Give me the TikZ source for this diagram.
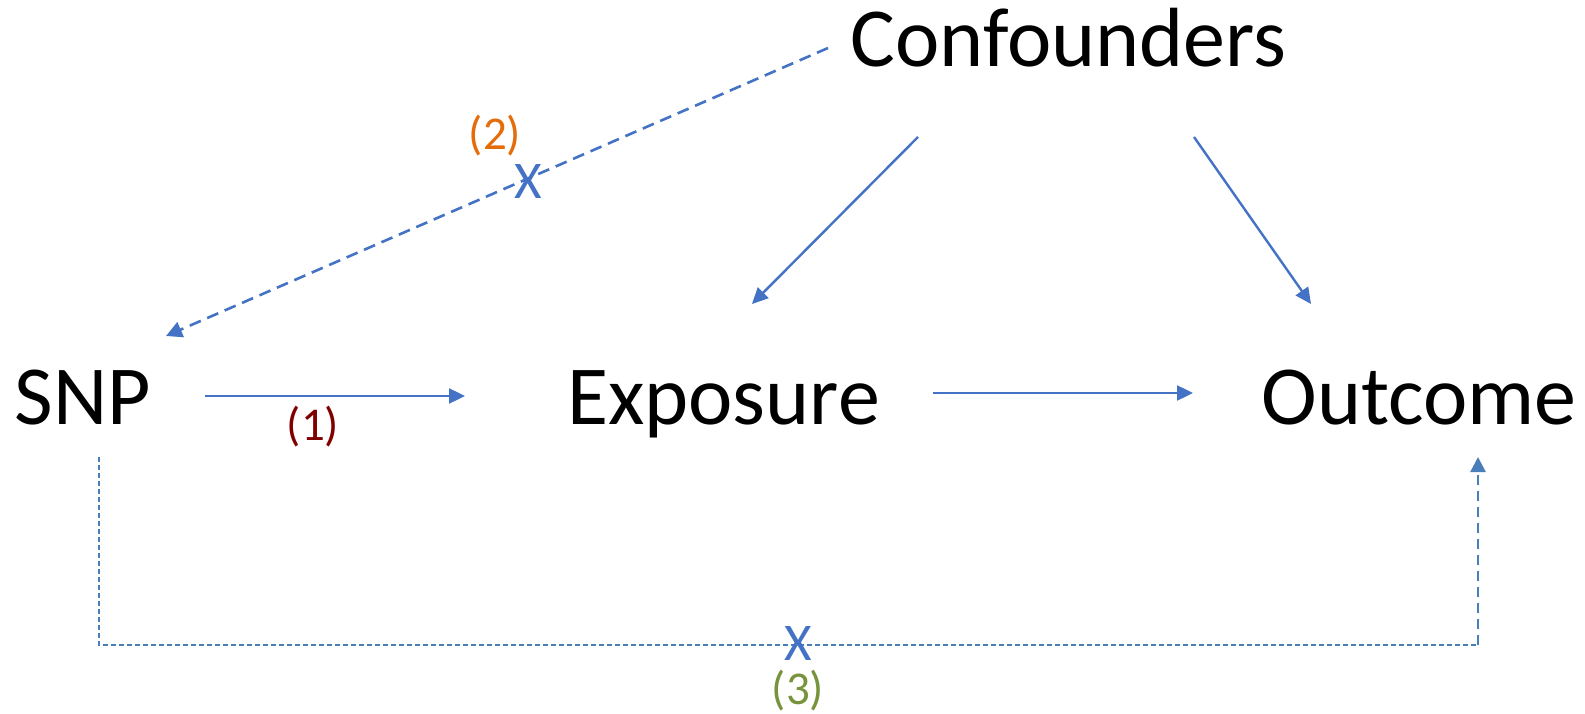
\documentclass[tikz,border=0pt]{standalone}
\usepackage{fontspec}
\setmainfont{Carlito}
\usetikzlibrary{arrows.meta}
\definecolor{lineblue}{HTML}{4472C4}
\definecolor{steelblue}{HTML}{4A7EBB}
\definecolor{lblred}{HTML}{800000}
\definecolor{lblorange}{HTML}{E46C0A}
\definecolor{lblgreen}{HTML}{77933C}
\tikzset{
  bigtext/.style={font=\fontsize{84}{100}\selectfont, inner sep=0pt, anchor=base},
  lbltext/.style={font=\fontsize{47}{54}\selectfont, inner sep=0pt, anchor=base},
  xmark/.style={font=\fontsize{53}{60}\selectfont, text=lineblue, inner sep=0pt, anchor=center},
  solidarrow/.style={draw=lineblue, line width=2.4pt, -{Triangle[length=16pt,width=15pt]}},
  dasharrow/.style={draw=lineblue, line width=2.6pt, dash pattern=on 12pt off 7pt, -{Triangle[length=16pt,width=16pt]}},
  finedash/.style={draw=steelblue, line width=1.6pt, dash pattern=on 5pt off 3pt},
  thickdash/.style={draw=steelblue, line width=2.6pt, dash pattern=on 10pt off 6pt, -{Triangle[length=15pt,width=15pt]}}
}
\begin{document}
\begin{tikzpicture}[x=1pt,y=-1pt]
\useasboundingbox (0,0) rectangle (1585,714);
% main nodes
\node[bigtext] (snp) at (83,424) {SNP};
\node[bigtext] (exp) at (723.5,424) {Exposure};
\node[bigtext] (out) at (1419,424) {Outcome};
\node[bigtext] (conf) at (1068.5,67) {Confounders};
% connector end points
\coordinate (snpR) at (205,396);
\coordinate (expL) at (465,396);
\coordinate (expR) at (933,393);
\coordinate (outL) at (1193,393);
\coordinate (confA) at (918,137);
\coordinate (expT) at (752,304);
\coordinate (confB) at (1194,137);
\coordinate (outT) at (1311,304);
\coordinate (confL) at (828,48);
\coordinate (snpT) at (166,336);
\coordinate (snpB) at (99,457);
\coordinate (corner) at (1478,645);
\coordinate (outB) at (1478,457);
% connectors
\draw[solidarrow] (snpR) -- (expL);
\draw[solidarrow] (expR) -- (outL);
\draw[solidarrow] (confA) -- (expT);
\draw[solidarrow] (confB) -- (outT);
\draw[dasharrow] (confL) -- (snpT);
\draw[finedash] (snpB) |- (corner);
\draw[thickdash] (corner) -- (outB);
% labels
\node[lbltext, text=lblred] (l1) at (313,440) {(1)};
\node[lbltext, text=lblorange] (l2) at (495,150) {(2)};
\node[lbltext, text=lblgreen] (l3) at (798,704) {(3)};
\node[xmark] (x2) at (528,181) {X};
\node[xmark] (x3) at (798,643) {X};
\end{tikzpicture}
\end{document}
